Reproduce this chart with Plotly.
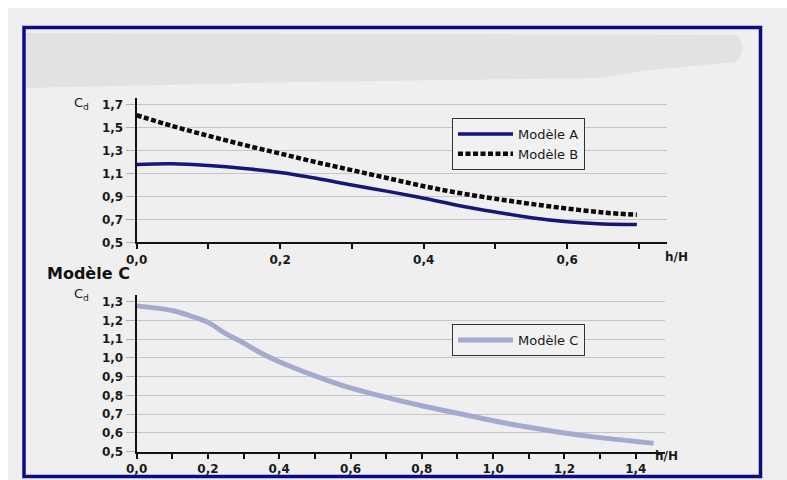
import plotly.graph_objects as go

W, H = 787, 480

# ---------------- data ----------------
x_ab = [0, 0.05, 0.1, 0.15, 0.2, 0.25, 0.3, 0.35, 0.4, 0.45, 0.5, 0.55, 0.6, 0.65, 0.697]
cd_a = [1.18, 1.185, 1.17, 1.145, 1.11, 1.06, 1.0, 0.945, 0.885, 0.82, 0.765, 0.715, 0.68, 0.66, 0.655]
cd_b = [1.61, 1.515, 1.43, 1.35, 1.275, 1.2, 1.13, 1.06, 0.99, 0.93, 0.88, 0.835, 0.795, 0.76, 0.74]

x_c = [0, 0.1, 0.15, 0.2, 0.25, 0.3, 0.35, 0.4, 0.5, 0.6, 0.7, 0.8, 0.9, 1.0, 1.1, 1.2, 1.3, 1.45]
cd_c = [1.278, 1.253, 1.225, 1.19, 1.13, 1.08, 1.025, 0.98, 0.905, 0.84, 0.79, 0.745, 0.705, 0.665, 0.63, 0.6, 0.575, 0.545]

y_top_vals = [0.5, 0.7, 0.9, 1.1, 1.3, 1.5, 1.7]
y_top_text = ["0,5", "0,7", "0,9", "1,1", "1,3", "1,5", "1,7"]
x_top_vals = [0, 0.2, 0.4, 0.6]
x_top_text = ["0,0", "0,2", "0,4", "0,6"]
x_top_minor = [0.1, 0.3, 0.5, 0.7]

y_bot_vals = [0.5, 0.6, 0.7, 0.8, 0.9, 1.0, 1.1, 1.2, 1.3]
y_bot_text = ["0,5", "0,6", "0,7", "0,8", "0,9", "1,0", "1,1", "1,2", "1,3"]
x_bot_vals = [0, 0.2, 0.4, 0.6, 0.8, 1.0, 1.2, 1.4]
x_bot_text = ["0,0", "0,2", "0,4", "0,6", "0,8", "1,0", "1,2", "1,4"]
x_bot_minor = [0.1, 0.3, 0.5, 0.7, 0.9, 1.1, 1.3]

names = ["Modèle A", "Modèle B", "Modèle C"]
title_c = "Modèle C"
y_label = "C<sub>d</sub>"
x_label = "h/H"


def fx(px):
    return px / W


def fy(py):
    return 1 - py / H


FONT = "DejaVu Sans"
TXT = "#1a1a1a"

fig = go.Figure()
fig.add_trace(go.Scatter(x=x_ab, y=cd_a, mode="lines", name=names[0], line=dict(color="#15157a", width=3.5, shape="spline"),
                         xaxis="x", yaxis="y", legend="legend"))
fig.add_trace(go.Scatter(x=x_ab, y=cd_b, mode="lines", name=names[1], line=dict(color="#0a0a0a", width=4.5, shape="spline", dash="5px,2.5px"),
                         xaxis="x", yaxis="y", legend="legend"))
fig.add_trace(go.Scatter(x=x_c, y=cd_c, mode="lines", name=names[2], line=dict(color="#a4aacd", width=5, shape="spline"),
                         xaxis="x2", yaxis="y2", legend="legend2"))

tickfont = dict(family=FONT, size=12, color=TXT, weight="bold")
common_x = dict(showline=True, linecolor="#111", linewidth=2, showgrid=False, zeroline=False,
                ticks="outside", ticklen=5, tickwidth=1.5, tickcolor="#111", tickfont=tickfont,
                tickmode="array", fixedrange=True, automargin=False)
common_y = dict(showline=True, linecolor="#111", linewidth=2, showgrid=True, gridcolor="#c6c6c6", gridwidth=1,
                zeroline=False, ticks="outside", ticklen=9, tickwidth=1, tickcolor="#b0b0b0", tickfont=tickfont,
                tickmode="array", fixedrange=True, automargin=False)
minor_x = dict(ticks="outside", ticklen=5, tickwidth=1.5, tickcolor="#111", showgrid=False)

legend_common = dict(xanchor="left", yanchor="top", bgcolor="#f1f1f1", bordercolor="#333", borderwidth=1,
                     font=dict(family=FONT, size=13, color=TXT), itemwidth=55, entrywidth=110,
                     tracegroupgap=0)

fig.update_layout(
    width=W, height=H,
    margin=dict(l=0, r=0, t=0, b=0, pad=0),
    paper_bgcolor="white",
    plot_bgcolor="rgba(0,0,0,0)",
    xaxis=dict(common_x, domain=[fx(136.6), fx(667)], range=[0, 0.739], tickvals=x_top_vals, ticktext=x_top_text,
               minor=dict(minor_x, tickvals=x_top_minor), anchor="y"),
    yaxis=dict(common_y, domain=[fy(242.3), fy(97.7)], range=[0.5, 1.763], tickvals=y_top_vals, ticktext=y_top_text, anchor="x"),
    xaxis2=dict(common_x, domain=[fx(136.6), fx(665)], range=[0, 1.482], tickvals=x_bot_vals, ticktext=x_bot_text,
                minor=dict(minor_x, tickvals=x_bot_minor), anchor="y2"),
    yaxis2=dict(common_y, domain=[fy(451.7), fy(295)], range=[0.5, 1.336], tickvals=y_bot_vals, ticktext=y_bot_text, anchor="x2"),
    legend=dict(legend_common, x=fx(452), y=fy(118)),
    legend2=dict(legend_common, x=fx(452), y=fy(324)),
    showlegend=True,
)

shapes = [
    # page background
    dict(type="rect", xref="paper", yref="paper", x0=fx(8), x1=fx(787), y0=fy(480), y1=fy(8),
         fillcolor="#efefef", line=dict(width=0), layer="below"),
    # redacted grey band
    dict(type="path", xref="paper", yref="paper",
         path=f"M {fx(26)},{fy(33)} L {fx(738)},{fy(35)} Q {fx(748)},{fy(50)} {fx(736)},{fy(62)} "
              f"L {fx(650)},{fy(70)} L {fx(600)},{fy(78)} L {fx(300)},{fy(82)} L {fx(26)},{fy(88)} Z",
         fillcolor="#e2e2e2", line=dict(width=0), layer="below"),
    # blue frame
    dict(type="rect", xref="paper", yref="paper", x0=fx(24), x1=fx(760.5), y0=fy(476.5), y1=fy(27.5),
         line=dict(color="#0c0c86", width=3.5), fillcolor="rgba(0,0,0,0)", layer="above"),
]

annotations = [
    dict(text=y_label, x=fx(72), y=fy(93), xref="paper", yref="paper", showarrow=False,
         font=dict(family=FONT, size=13, color=TXT)),
    dict(text=y_label, x=fx(72), y=fy(294), xref="paper", yref="paper", showarrow=False,
         font=dict(family=FONT, size=13, color=TXT)),
    dict(text=x_label, x=fx(690), y=fy(257), xref="paper", yref="paper", showarrow=False,
         font=dict(family=FONT, size=12, color=TXT, weight="bold")),
    dict(text=x_label, x=fx(680), y=fy(465), xref="paper", yref="paper", showarrow=False,
         font=dict(family=FONT, size=12, color=TXT, weight="bold")),
    dict(text=title_c, x=fx(45), y=fy(273.5), xref="paper", yref="paper", showarrow=False, xanchor="left",
         font=dict(family=FONT, size=16, color="#111", weight="bold")),
]

fig.update_layout(shapes=shapes, annotations=annotations)
fig.write_html("out.html",
               config={"displayModeBar": False},
               post_script="document.body.style.margin='0';document.body.style.padding='0';"
                           "document.documentElement.style.overflow='hidden';")
